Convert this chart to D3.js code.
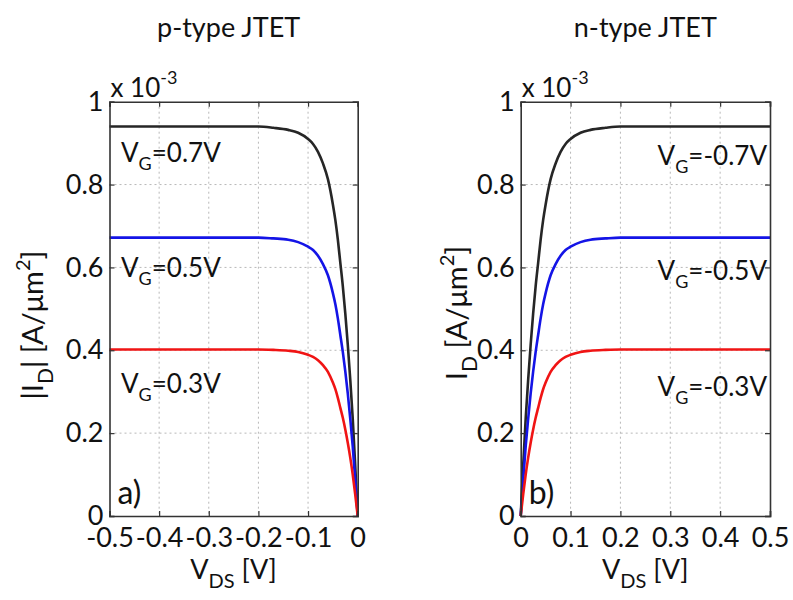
<!DOCTYPE html>
<html>
<head>
<meta charset="utf-8">
<script src="https://cdn.jsdelivr.net/npm/d3@7"></script>
<style>
  body { margin: 0; background: #fff; }
  svg { display: block; }
  text { font-family: Lato, "Open Sans", sans-serif; fill: #111; }
</style>
</head>
<body>
<svg id="chart" width="793" height="600"></svg>
<script>
// |V_DS| sample points (V) shared by both devices
const vdsAbs = [0, 0.005, 0.01, 0.015, 0.02, 0.025, 0.03, 0.035, 0.04, 0.045, 0.05,
                0.06, 0.07, 0.08, 0.09, 0.1, 0.12, 0.14, 0.17, 0.2, 0.3, 0.4, 0.5];
// p-type sweeps negative drain voltage
const vdsP = [0, -0.005, -0.01, -0.015, -0.02, -0.025, -0.03, -0.035, -0.04, -0.045, -0.05,
              -0.06, -0.07, -0.08, -0.09, -0.1, -0.12, -0.14, -0.17, -0.2, -0.3, -0.4, -0.5];
const vdsN = vdsAbs;

// drain current density, units of 1e-3 A/um^2
const idHigh = [0, 0.122, 0.235, 0.329, 0.414, 0.489, 0.555, 0.611, 0.667, 0.714, 0.752,
                0.813, 0.851, 0.879, 0.898, 0.910, 0.925, 0.932, 0.937, 0.94, 0.94, 0.94, 0.94];
const idMid  = [0, 0.087, 0.168, 0.235, 0.296, 0.349, 0.396, 0.437, 0.477, 0.511, 0.538,
                0.581, 0.608, 0.628, 0.642, 0.650, 0.661, 0.667, 0.670, 0.672, 0.672, 0.672, 0.672];
const idLow  = [0, 0.052, 0.100, 0.141, 0.177, 0.209, 0.237, 0.261, 0.285, 0.306, 0.322,
                0.348, 0.364, 0.376, 0.384, 0.389, 0.396, 0.399, 0.401, 0.402, 0.402, 0.402, 0.402];

const labelsP = ["0.7V", "0.5V", "0.3V"];
const labelsN = ["-0.7V", "-0.5V", "-0.3V"];
const seriesColors = ["#262626", "#1414e6", "#f01414"];

const xTicksP = [-0.5, -0.4, -0.3, -0.2, -0.1, 0];
const xTicksN = [0, 0.1, 0.2, 0.3, 0.4, 0.5];
const yTicks = [0, 0.2, 0.4, 0.6, 0.8, 1];

const svg = d3.select("#chart");
const plotTop = 101.7, plotBottom = 516;
const plain = d => String(d);   // keep ASCII hyphen for negatives

function drawPanel(opt) {
  const x = d3.scaleLinear().domain(opt.xDomain).range([opt.left, opt.right]);
  const y = d3.scaleLinear().domain([0, 1]).range([plotBottom, plotTop]);
  const g = svg.append("g");

  // title
  g.append("text").attr("x", (opt.left + opt.right) / 2 + opt.titleShift).attr("y", 37)
    .attr("text-anchor", "middle").attr("font-size", 27).text(opt.title);

  // dotted grid
  g.append("g").selectAll("line").data(opt.xTicks.slice(1, -1)).join("line")
    .attr("x1", d => x(d)).attr("x2", d => x(d)).attr("y1", plotTop).attr("y2", plotBottom)
    .attr("stroke", "#b8b8b8").attr("stroke-width", 1).attr("stroke-dasharray", "2,3");
  g.append("g").selectAll("line").data(yTicks.slice(1, -1)).join("line")
    .attr("x1", opt.left).attr("x2", opt.right).attr("y1", d => y(d)).attr("y2", d => y(d))
    .attr("stroke", "#b8b8b8").attr("stroke-width", 1).attr("stroke-dasharray", "2,3");

  // curves
  const line = d3.line().x(d => x(d[0])).y(d => y(d[1])).curve(d3.curveMonotoneX);
  opt.series.forEach((vals, i) => {
    const pts = opt.vds.map((v, k) => [v, vals[k]]).sort((a, b) => a[0] - b[0]);
    g.append("path").datum(pts).attr("d", line)
      .attr("fill", "none").attr("stroke", seriesColors[i]).attr("stroke-width", 2.6);
  });

  // axes with inward ticks on all four sides
  const tl = 5;
  const bAx = g.append("g").attr("transform", `translate(0,${plotBottom})`)
    .call(d3.axisBottom(x).tickValues(opt.xTicks).tickSize(-tl).tickPadding(13).tickFormat(plain));
  const tAx = g.append("g").attr("transform", `translate(0,${plotTop})`)
    .call(d3.axisTop(x).tickValues(opt.xTicks).tickSize(-tl).tickFormat(""));
  const lAx = g.append("g").attr("transform", `translate(${opt.left},0)`)
    .call(d3.axisLeft(y).tickValues(yTicks).tickSize(-tl).tickPadding(6).tickFormat(plain));
  const rAx = g.append("g").attr("transform", `translate(${opt.right},0)`)
    .call(d3.axisRight(y).tickValues(yTicks).tickSize(-tl).tickFormat(""));
  [bAx, tAx, lAx, rAx].forEach(a => {
    a.select(".domain").attr("stroke", "#333").attr("stroke-width", 1.6);
    a.selectAll(".tick line").attr("stroke", "#333").attr("stroke-width", 1.2);
  });
  bAx.selectAll("text").attr("font-size", 27).attr("font-family", "Lato").attr("fill", "#111")
    .attr("dy", "0.68em");
  lAx.selectAll("text").attr("font-size", 27).attr("font-family", "Lato").attr("fill", "#111")
    .attr("dy", "0.32em");

  // x 10^-3 multiplier
  const m = g.append("text").attr("x", opt.left + 1).attr("y", 97).attr("font-size", 26);
  m.append("tspan").text("x 10");
  m.append("tspan").attr("dy", -13).attr("font-size", 18).text("-3");

  // x label
  const xl = g.append("text").attr("x", (opt.left + opt.right) / 2).attr("y", 579)
    .attr("text-anchor", "middle").attr("font-size", 27);
  xl.append("tspan").text("V");
  xl.append("tspan").attr("dy", 9).attr("font-size", 20).text("DS");
  xl.append("tspan").attr("dy", -9).text(" [V]");

  // y label
  const yl = g.append("text")
    .attr("transform", `translate(${opt.yLabelX},${opt.yLabelY}) rotate(-90)`)
    .attr("text-anchor", "middle").attr("font-size", 29);
  yl.append("tspan").text(opt.yPrefix + "I");
  yl.append("tspan").attr("dy", 10).attr("font-size", 21).text("D");
  yl.append("tspan").attr("dy", -10).text(opt.ySuffix + " [A/\u03bcm");
  yl.append("tspan").attr("dy", -13).attr("font-size", 20).text("2");
  yl.append("tspan").attr("dy", 13).text("]");

  // gate-voltage annotations
  opt.labels.forEach((lab, i) => {
    const t = g.append("text").attr("x", opt.labelX).attr("y", opt.labelY[i])
      .attr("text-anchor", opt.labelAnchor).attr("font-size", 26);
    t.append("tspan").text("V");
    t.append("tspan").attr("dy", 8).attr("font-size", 18).text("G");
    t.append("tspan").attr("dy", -8).text("=" + lab);
  });

  // panel tag
  g.append("text").attr("x", opt.left + 8).attr("y", 504).attr("font-size", 32).text(opt.tag);
}

drawPanel({
  title: "p-type JTET", left: 109.5, right: 357.7, xDomain: [-0.5, 0], xTicks: xTicksP,
  vds: vdsP, series: [idHigh, idMid, idLow], labels: labelsP,
  labelX: 121, labelY: [162, 277, 393], labelAnchor: "start", titleShift: -5,
  yPrefix: "|", ySuffix: "|", yLabelX: 43, yLabelY: 325, tag: "a)"
});
drawPanel({
  title: "n-type JTET", left: 520.7, right: 770, xDomain: [0, 0.5], xTicks: xTicksN,
  vds: vdsN, series: [idHigh, idMid, idLow], labels: labelsN,
  labelX: 767, labelY: [165, 280, 396], labelAnchor: "end", titleShift: 0,
  yPrefix: "", ySuffix: "", yLabelX: 467, yLabelY: 313, tag: "b)"
});
</script>
</body>
</html>
